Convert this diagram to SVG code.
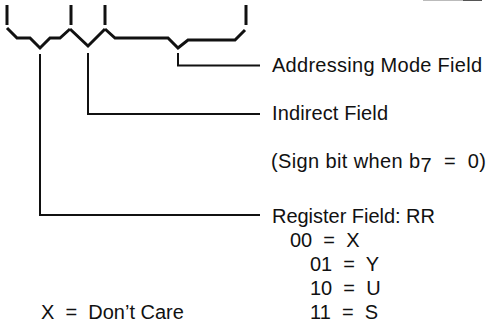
<svg xmlns="http://www.w3.org/2000/svg" width="489" height="325" viewBox="0 0 489 325">
  <style>
    .label { font-family: "Liberation Sans", Arial, Helvetica, sans-serif; font-size: 20px; fill: #111; white-space: pre; }
    .brace { fill: none; stroke: #111; stroke-width: 3; stroke-linejoin: miter; }
    .tick { stroke: #111; stroke-width: 3; }
    .leader { fill: none; stroke: #111; stroke-width: 2; }
  </style>
  <rect width="489" height="325" fill="#ffffff"/>

  <!-- edge rule at top right -->
  <line x1="423" y1="0.5" x2="463" y2="0.5" stroke="#bbbbbb" stroke-width="1"/>
  <line x1="463" y1="0.5" x2="482" y2="0.5" stroke="#555555" stroke-width="1"/>

  <!-- bit-boundary ticks and field braces -->
  <g id="braces">
    <line class="tick" x1="7" y1="5" x2="7" y2="25"/>
    <line class="tick" x1="71" y1="5" x2="71" y2="25"/>
    <line class="tick" x1="105" y1="5" x2="105" y2="25"/>
    <line class="tick" x1="246" y1="5" x2="246" y2="25"/>
    <!-- register field brace -->
    <polyline class="brace" points="7,28 17,38 30,38 40,48 50,38 60,38 70,29"/>
    <!-- indirect field brace -->
    <polyline class="brace" points="70,29 88,46 105,29"/>
    <!-- addressing mode brace -->
    <polyline class="brace" points="105,29 115,38 168,38 178,48 188,40 235,40 245,30"/>
  </g>

  <!-- leader lines from braces to labels -->
  <g id="connectors">
    <polyline class="leader" points="178,53 178,65.5 260,65.5"/>
    <polyline class="leader" points="88,53 88,114 260,114"/>
    <polyline class="leader" points="40,54 40,215 260,215"/>
  </g>

  <g id="addressing-mode">
    <text class="label" x="272" y="72" textLength="210" lengthAdjust="spacing">Addressing Mode Field</text>
  </g>

  <g id="indirect">
    <text class="label" x="272" y="120" textLength="116" lengthAdjust="spacing">Indirect Field</text>
    <text class="label" x="271" y="168" textLength="215" lengthAdjust="spacing">(Sign bit when b<tspan dy="4">7</tspan><tspan dy="-4">  =  0)</tspan></text>
  </g>

  <g id="register">
    <text class="label" x="272" y="223" textLength="163" lengthAdjust="spacing">Register Field: RR</text>
    <text class="label" x="290" y="247">00  =  X</text>
    <text class="label" x="310" y="271">01  =  Y</text>
    <text class="label" x="310" y="295">10  =  U</text>
    <text class="label" x="310" y="319">11  =  S</text>
  </g>

  <g id="legend">
    <text class="label" x="41" y="319">X  =  Don’t Care</text>
  </g>
</svg>
